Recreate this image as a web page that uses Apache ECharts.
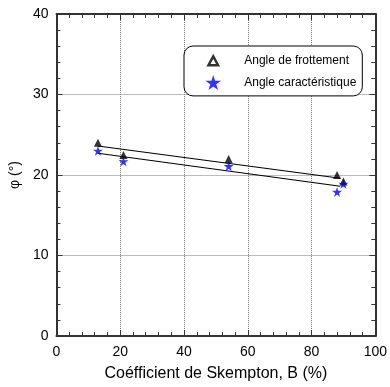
<!DOCTYPE html>
<html>
<head>
<meta charset="utf-8">
<script src="https://cdn.jsdelivr.net/npm/echarts@6/dist/echarts.min.js"></script>
<style>
  html, body { margin: 0; padding: 0; background: #fff; }
  #chart { width: 390px; height: 387px; }
</style>
</head>
<body>
<div id="chart"></div>
<script>
// measured points (B %, phi °)
const frottementB = [13, 21, 54, 88, 90];
const frottementPhi = [24.0, 22.5, 22.0, 20.0, 19.2];
const caracB = [13, 21, 54, 88, 90];
const caracPhi = [23.0, 21.7, 21.1, 17.9, 18.9];
// fitted lines, end points
const fitFrottement = [[13, 23.6], [89, 19.6]];
const fitCarac = [[13, 22.7], [89, 18.6]];
const xTicks = [0, 20, 40, 60, 80, 100];
const yTicks = [0, 10, 20, 30, 40];

const chart = echarts.init(document.getElementById('chart'));
const font = 'Liberation Sans, Arial, sans-serif';
const star = 'path://M50,0 L61,35 L98,35 L68,57 L79,91 L50,70 L21,91 L32,57 L2,35 L39,35 Z';
// small triangle with empty margin points so it draws smaller than the star in the legend
const legendTriangle = 'path://M0,0 M20,18 M10,4 L16,15 L4,15 Z';

const gridLine = { show: true, lineStyle: { type: [1, 1], color: '#777', width: 1 } };

// axis with inward ticks only (used for major + minor tick rows on all 4 sides)
function tickAxis(position, min, max, interval, len, showLine) {
    return {
        type: 'value', min, max, interval, position,
        axisLine: { show: showLine, onZero: false, lineStyle: { color: '#333', width: 2 } },
        axisTick: { show: true, inside: true, length: len, lineStyle: { color: '#333', width: 1 } },
        axisLabel: { show: false },
        splitLine: { show: false },
    };
}

const xMain = tickAxis('bottom', 0, 100, 20, 6, true);
Object.assign(xMain, {
    name: 'Coéfficient de Skempton, B (%)',
    nameLocation: 'middle', nameGap: 30,
    nameTextStyle: { fontFamily: font, fontSize: 16, color: '#000' },
    axisLabel: { show: true, fontFamily: font, fontSize: 14, color: '#000', margin: 9,
        formatter: v => xTicks.includes(v) ? String(v) : '' },
    splitLine: gridLine,
});
const yMain = tickAxis('left', 0, 40, 10, 6, true);
Object.assign(yMain, {
    name: 'φ (°)',
    nameLocation: 'middle', nameGap: 31, nameRotate: 90,
    nameTextStyle: { fontFamily: font, fontSize: 14, color: '#000' },
    axisLabel: { show: true, fontFamily: font, fontSize: 14, color: '#000', margin: 8,
        formatter: v => yTicks.includes(v) ? String(v) : '' },
    splitLine: gridLine,
});

const option = {
    animation: false,
    backgroundColor: '#fff',
    grid: { left: 56, right: 12, top: 14, bottom: 50 },
    legend: {
        orient: 'vertical',
        left: 184,
        top: 46,
        padding: [6, 6, 6, 20],
        itemGap: 6,
        itemWidth: 16,
        itemHeight: 15,
        borderColor: '#000',
        borderWidth: 1,
        borderRadius: 9,
        backgroundColor: '#fff',
        textStyle: { fontFamily: font, fontSize: 12, color: '#000', padding: [0, 0, 0, 18] },
        data: [
            { name: 'Angle de frottement', icon: legendTriangle, itemStyle: { color: '#fff', borderColor: '#000', borderWidth: 2.5 } },
            { name: 'Angle caractéristique', icon: star, itemStyle: { color: '#0000ff' } },
        ],
    },
    xAxis: [
        xMain,
        tickAxis('top', 0, 100, 20, 6, true),
        tickAxis('bottom', 0, 100, 4, 4, false),
        tickAxis('top', 0, 100, 4, 4, false),
    ],
    yAxis: [
        yMain,
        tickAxis('right', 0, 40, 10, 6, true),
        tickAxis('left', 0, 40, 2, 4, false),
        tickAxis('right', 0, 40, 2, 4, false),
    ],
    series: [
        {
            name: 'fit1', type: 'line', data: fitFrottement, symbol: 'none',
            lineStyle: { color: '#000', width: 1.2 }, silent: true, z: 2,
        },
        {
            name: 'fit2', type: 'line', data: fitCarac, symbol: 'none',
            lineStyle: { color: '#000', width: 1.2 }, silent: true, z: 2,
        },
        {
            name: 'Angle de frottement', type: 'scatter',
            data: frottementB.map((b, i) => [b, frottementPhi[i]]),
            symbol: 'triangle', symbolSize: 8,
            itemStyle: { color: '#000' }, z: 3,
        },
        {
            name: 'Angle caractéristique', type: 'scatter',
            data: caracB.map((b, i) => [b, caracPhi[i]]),
            symbol: star, symbolSize: 10,
            itemStyle: { color: '#0000ff' }, z: 4,
        },
    ],
};

chart.setOption(option);
</script>
</body>
</html>
